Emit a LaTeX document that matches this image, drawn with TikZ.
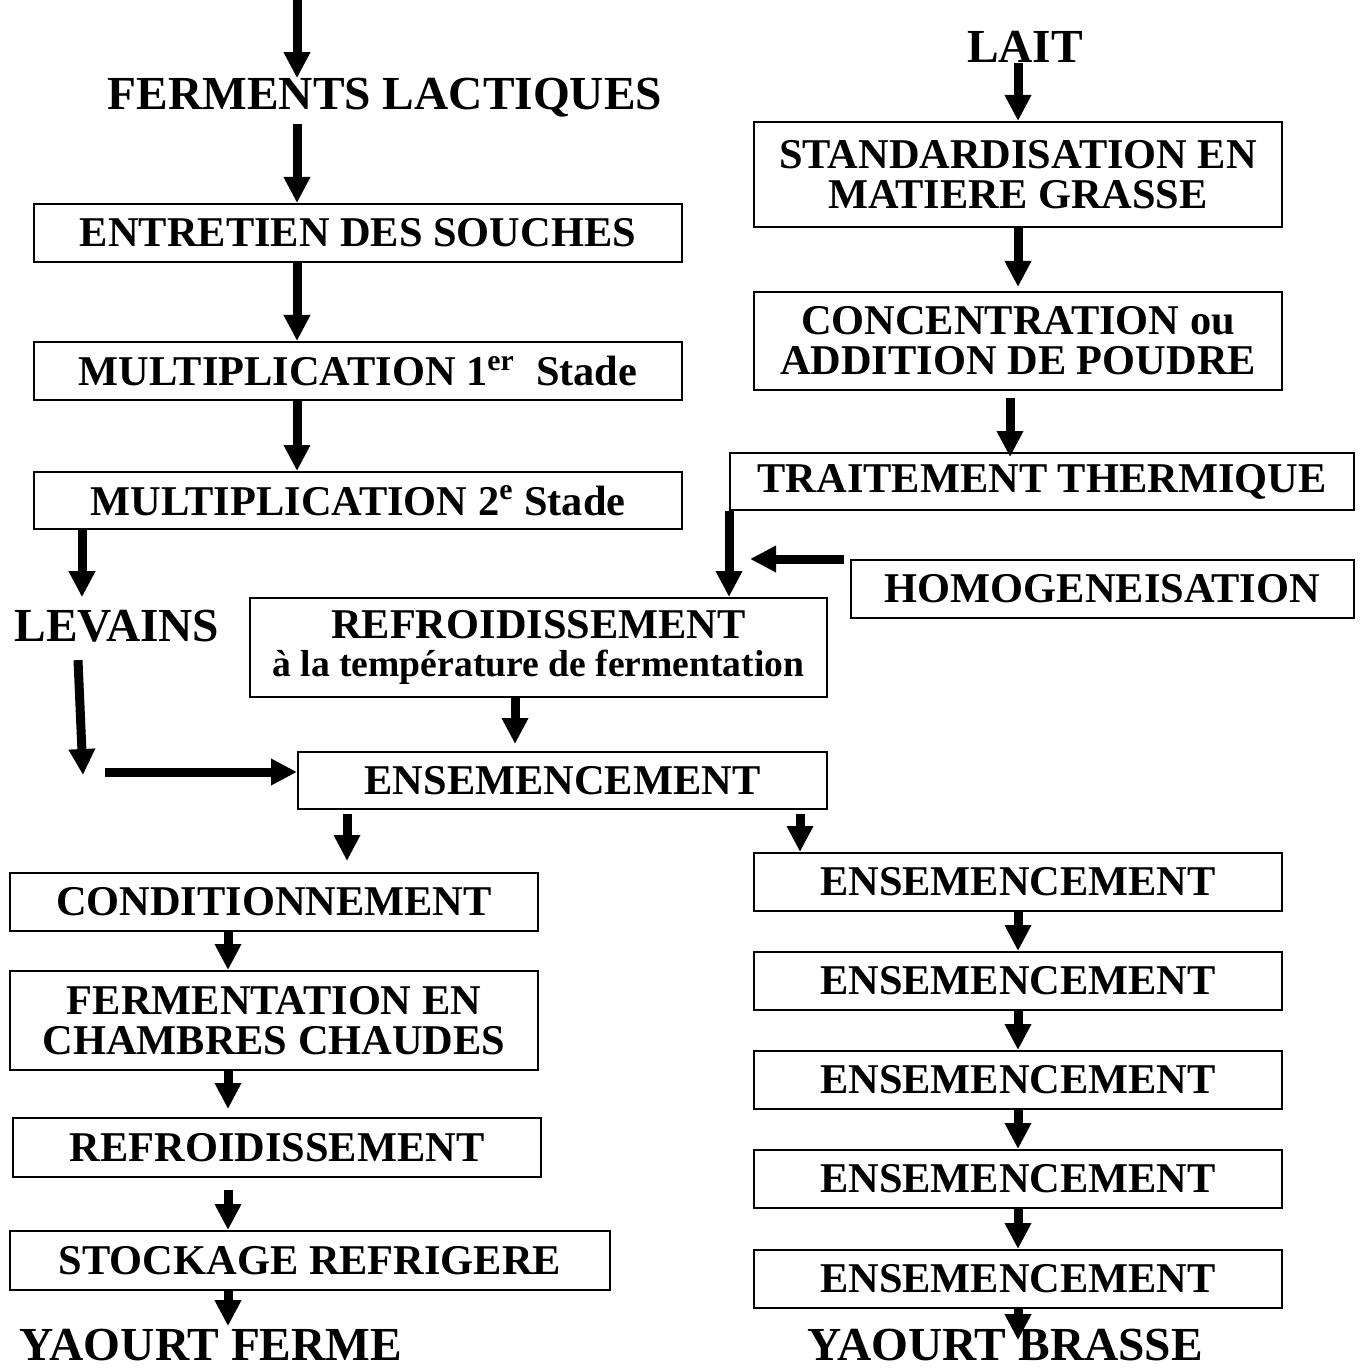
\documentclass[tikz,border=0pt]{standalone}
\usepackage{fontspec}
\setmainfont{Liberation Serif}
\usetikzlibrary{arrows.meta}
\tikzset{
  stepbox/.style={draw, line width=1pt, inner sep=0pt, align=center,
    minimum height=29pt, font=\bfseries\fontsize{21.2}{20}\selectfont},
  title/.style={inner sep=0pt, anchor=base, font=\bfseries\fontsize{23.7}{24}\selectfont},
  arr/.style={line width=4.5pt, -{Triangle[length=13pt,width=12.5pt]}},
}

\begin{document}
\begin{tikzpicture}[x=0.5pt, y=-0.5pt]
  \useasboundingbox (0,0) rectangle (1361,1369);
  % left branch: starters
  \node[title] (ferm) at (385,110) {FERMENTS LACTIQUES};
  \node[stepbox, minimum width=324pt] (entr) at (358,233) {ENTRETIEN DES SOUCHES};
  \node[stepbox, minimum width=324pt] (mult1) at (358,371) {MULTIPLICATION 1\textsuperscript{er}~ Stade};
  \node[stepbox, minimum width=324pt, minimum height=28.5pt] (mult2) at (358,500.5) {MULTIPLICATION 2\textsuperscript{e} Stade};
  \node[title] (levains) at (117,641) {LEVAINS};
  % right branch: milk
  \node[title] (lait) at (1025,63) {LAIT};
  \node[stepbox, minimum width=264pt, minimum height=52.5pt] (stand) at (1018,174.5) {STANDARDISATION EN\\MATIERE GRASSE};
  \node[stepbox, minimum width=264pt, minimum height=49pt] (conc) at (1018,341) {CONCENTRATION ou\\ADDITION DE POUDRE};
  \node[stepbox, minimum width=312pt, minimum height=28.5pt] (trait) at (1042,481.5) {TRAITEMENT THERMIQUE};
  \node[stepbox, minimum width=251.5pt] (homog) at (1102.5,589) {HOMOGENEISATION};
  \node[stepbox, minimum width=288.5pt, minimum height=49.5pt] (refr) at (538.5,647.5)
    {REFROIDISSEMENT\\[-1pt]{\fontsize{18.8}{19}\selectfont à la température de fermentation}};
  \node[stepbox, minimum width=264.5pt, minimum height=28.5pt] (ens) at (562.5,780.5) {ENSEMENCEMENT};
  % set yoghurt
  \node[stepbox, minimum width=264pt] (cond) at (274,902) {CONDITIONNEMENT};
  \node[stepbox, minimum width=264pt, minimum height=49.5pt] (fermch) at (274,1020.5) {FERMENTATION EN\\CHAMBRES CHAUDES};
  \node[stepbox, minimum width=264pt, minimum height=29.5pt] (refr2) at (277,1147.5) {REFROIDISSEMENT};
  \node[stepbox, minimum width=300pt, minimum height=29.5pt] (stock) at (310,1260.5) {STOCKAGE REFRIGERE};
  \node[title] (yferme) at (211,1360) {YAOURT FERME};
  % stirred yoghurt
  \foreach \i/\y in {1/882,2/981,3/1080,4/1179,5/1279}
    \node[stepbox, minimum width=264pt] (ensr\i) at (1018,\y) {ENSEMENCEMENT};
  \node[title] (ybrasse) at (1005,1360) {YAOURT BRASSE};

  \coordinate (lx) at (297,0);
  \coordinate (levx) at (82,0);
  \coordinate (rx) at (800,0);
  \coordinate (levend) at (83,775);
  \coordinate (levstart) at (105,772);
  \coordinate (homend) at (750,561);

  \draw[arr] (lx) -- (ferm.north -| lx);
  \draw[arr, shorten <=3pt] (ferm.south -| lx) -- (entr.north -| lx);
  \draw[arr] (entr.south -| lx) -- (mult1.north -| lx);
  \draw[arr] (mult1.south -| lx) -- (mult2.north -| lx);
  \draw[arr] (mult2.south -| levx) -- ([yshift=6pt]levains.north -| levx);
  \draw[arr] ([xshift=-2pt,yshift=-9pt]levains.south -| levx) -- (levend);
  \draw[arr] (levstart) -- (ens.west |- levstart);
  \draw[arr] (lait.south -| ensr1) -- (stand.north);
  \draw[arr] (stand.south) -- ([yshift=2pt]conc.north);
  \draw[arr, shorten <=3.5pt] ([xshift=-4pt]conc.south) -- ([xshift=-4pt,yshift=-2.5pt]conc.south |- trait.north);
  \draw[arr] (trait.south west) -- (trait.south west |- refr.north);
  \draw[arr] ([xshift=-3pt]homog.north west) -- (homend |- homog.north west);
  \draw[arr, shorten >=3.5pt] ([xshift=-11.75pt]refr.south) -- ([xshift=-11.75pt]refr.south |- ens.north);
  \draw[arr, shorten <=2pt, shorten >=5.5pt] (ens.south -| 347,0) -- (cond.north -| 347,0);
  \draw[arr, shorten <=2pt] (ens.south -| rx) -- (ensr1.north -| rx);
  \draw[arr] (cond.south -| 228,0) -- (fermch.north -| 228,0);
  \draw[arr, shorten >=4pt] (fermch.south -| 228,0) -- (refr2.north -| 228,0);
  \draw[arr, shorten <=6pt] (refr2.south -| 228,0) -- (stock.north -| 228,0);
  \draw[arr, shorten >=1pt] (stock.south -| 228,0) -- (yferme.north -| 228,0);
  \foreach \a/\b in {1/2,2/3,3/4,4/5}
    \draw[arr] (ensr\a.south) -- (ensr\b.north);
  \draw[arr, shorten >=-6pt] (ensr5.south) -- (ybrasse.north -| ensr5);
\end{tikzpicture}
\end{document}
